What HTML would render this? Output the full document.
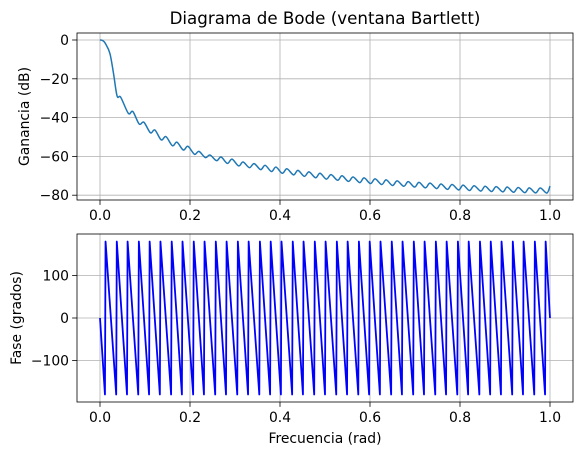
<!DOCTYPE html>
<html><head><meta charset="utf-8"><style>
body{margin:0;background:#fff;}
svg{display:block;font-family:"DejaVu Sans","Liberation Sans",sans-serif;}
</style></head><body>
<svg id="c" width="583" height="455" viewBox="0 0 583 455"></svg>
<script>
const xTicks=[0,0.2,0.4,0.6,0.8,1.0];
const xTickLabels=["0.0","0.2","0.4","0.6","0.8","1.0"];
const gainTicks=[0,-20,-40,-60,-80];
const phaseTicks=[-100,0,100];
const gainHeadX=[0,0.006,0.012,0.022,0.030,0.038,0.046];
const gainHeadY=[0,-0.3,-1.8,-6.9,-17.2,-28.9,-29.5];
const troughX=[0.063,0.087,0.112,0.136,0.161,0.185,0.210,0.234,0.259,0.283,0.308,0.332,0.357,0.381,0.405,0.430,0.454,0.479,0.503,0.528,0.552,0.577,0.601,0.626,0.650,0.675,0.699,0.723,0.748,0.772,0.797,0.821,0.846,0.870,0.895,0.919,0.944,0.968,0.993];
const troughY=[-37.8,-43.3,-47.8,-51.5,-54.5,-56.7,-58.9,-60.6,-62.2,-63.6,-64.9,-65.8,-66.8,-67.8,-68.7,-69.5,-70.3,-71,-71.7,-72.3,-72.9,-73.5,-74,-74.5,-75,-75.4,-75.8,-76.2,-76.6,-77,-77.3,-77.6,-77.9,-78.1,-78.3,-78.5,-78.7,-78.8,-78.9];
const peakY=[-36.9,-42.4,-46.4,-49.8,-52.7,-54.8,-57.4,-59.3,-60.3,-61.4,-62.9,-63.7,-64.6,-65.5,-66.4,-67.2,-68,-68.7,-69.4,-70,-70.6,-71.1,-71.6,-72.1,-72.6,-73,-73.4,-73.8,-74.2,-74.5,-74.8,-75.1,-75.4,-75.6,-75.8,-76,-76.2,-76.3];
const gainEnd=[1.0,-75.3];
const phaseJumpX=[0.011,0.036,0.060,0.085,0.109,0.133,0.158,0.182,0.207,0.231,0.256,0.280,0.305,0.329,0.354,0.378,0.402,0.427,0.451,0.476,0.500,0.525,0.549,0.574,0.598,0.622,0.647,0.671,0.696,0.720,0.745,0.769,0.794,0.818,0.843,0.867,0.891,0.916,0.940,0.965,0.989];
const phaseEnd=[1.0,0];

const NS="http://www.w3.org/2000/svg";
const svg=document.getElementById('c');
function el(t,a,p){const e=document.createElementNS(NS,t);for(const k in a)e.setAttribute(k,a[k]);(p||svg).appendChild(e);return e;}
const L=77,R=573,FS=13.9;
const X=v=>100+450*v;
const axTop={t:33,b:200,y:v=>40-v*1.94};
const axBot={t:234,b:402,y:v=>318-v*0.425};

function axes(ax,ticks,name,ylabel,ly){
  const g=el('g',{});
  
  
  xTicks.forEach((v,i)=>{
    const gl=el('line',{x1:X(v),x2:X(v),y1:ax.t,y2:ax.b,stroke:'#b0b0b0','stroke-width':0.8},g);
    
    
    el('line',{x1:X(v),x2:X(v),y1:ax.b,y2:ax.b+4.9,stroke:'#000','stroke-width':0.8},g);
    const t=el('text',{x:X(v),y:ax.b+20,'font-size':FS,'text-anchor':'middle'},g);t.textContent=xTickLabels[i];
    
    
  });
  ticks.forEach(v=>{
    const gl=el('line',{x1:L,x2:R,y1:ax.y(v),y2:ax.y(v),stroke:'#b0b0b0','stroke-width':0.8},g);
    
    
    el('line',{x1:L-4.9,x2:L,y1:ax.y(v),y2:ax.y(v),stroke:'#000','stroke-width':0.8},g);
    const t=el('text',{x:L-8,y:ax.y(v)+5,'font-size':FS,'text-anchor':'end'},g);t.textContent=String(v).replace('-','\u2212');
    
    
  });
  const yl=el('text',{x:0,y:0,'font-size':FS,'text-anchor':'middle',transform:`translate(${ly},${(ax.t+ax.b)/2}) rotate(-90)`},g);
  yl.textContent=ylabel;
  
  
  return g;
}
axes(axTop,gainTicks,'gain-axes','Ganancia (dB)',29);
axes(axBot,phaseTicks,'phase-axes','Fase (grados)',21);

let pts=[];
gainHeadX.forEach((x,i)=>pts.push([X(x),axTop.y(gainHeadY[i])]));
troughX.forEach((x,i)=>{pts.push([X(x),axTop.y(troughY[i])]);if(i<peakY.length&&i+1<troughX.length)pts.push([X((x+troughX[i+1])/2-0.002),axTop.y(peakY[i])]);});
pts.push([X(gainEnd[0]),axTop.y(gainEnd[1])]);
let d=`M${pts[0][0]},${pts[0][1]}`;
for(let i=0;i<pts.length-1;i++){
  const p0=pts[Math.max(0,i-1)],p1=pts[i],p2=pts[i+1],p3=pts[Math.min(pts.length-1,i+2)];
  d+=` C${p1[0]+(p2[0]-p0[0])/6},${p1[1]+(p2[1]-p0[1])/6} ${p2[0]-(p3[0]-p1[0])/6},${p2[1]-(p3[1]-p1[1])/6} ${p2[0]},${p2[1]}`;
}
const gline=el('path',{d:d,fill:'none',stroke:'#1f77b4','stroke-width':1.5,'stroke-linejoin':'round'});



let pd=`M${X(0)},${axBot.y(0)}`;
phaseJumpX.forEach(x=>{pd+=` L${X(x)},${axBot.y(-180)} L${X(x)+0.6},${axBot.y(180)}`;});
pd+=` L${X(phaseEnd[0])},${axBot.y(phaseEnd[1])}`;
const pline=el('path',{d:pd,fill:'none',stroke:'#0000ff','stroke-width':1.8,'stroke-linejoin':'round'});



[axTop,axBot].forEach((ax,i)=>{
  const f=el('rect',{x:L,y:ax.t,width:R-L,height:ax.b-ax.t,fill:'none',stroke:'#000','stroke-width':0.8});
  
  
});

const ti=el('text',{x:325,y:24,'font-size':16.7,'text-anchor':'middle'});ti.textContent='Diagrama de Bode (ventana Bartlett)';


const xl=el('text',{x:325,y:443,'font-size':FS,'text-anchor':'middle'});xl.textContent='Frecuencia (rad)';


</script>
</body></html>
